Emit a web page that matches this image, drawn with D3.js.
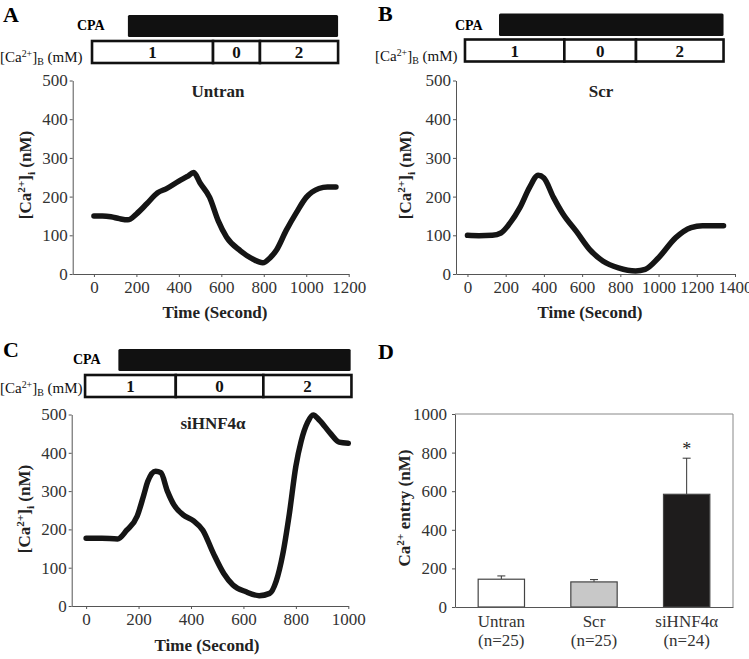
<!DOCTYPE html>
<html>
<head>
<meta charset="utf-8">
<script src="https://cdn.jsdelivr.net/npm/d3@7"></script>
<style>
  body { margin: 0; background: #fff; }
  svg, svg text { font-family: "Liberation Serif", "Times New Roman", serif; }
  svg { display: block; }
</style>
</head>
<body>
<svg id="chart" width="749" height="659"></svg>
<script>
// traces: time (s) and [Ca2+]i (nM)
const timeA = [0, 40, 80, 120, 160, 200, 250, 300, 340, 400, 440, 470, 500, 545, 585, 625, 690, 750, 795, 830, 860, 905, 955, 1000, 1060, 1100, 1140];
const caA   = [150, 150, 148, 143, 140, 155, 182, 210, 220, 240, 252, 262, 235, 198, 138, 95, 60, 38, 29, 42, 62, 112, 160, 198, 221, 225, 225];

const timeB = [0, 60, 130, 175, 220, 275, 325, 370, 400, 450, 500, 570, 640, 710, 790, 880, 930, 1000, 1090, 1170, 1230, 1340];
const caB   = [100, 99, 100, 106, 130, 172, 224, 255, 248, 198, 155, 110, 63, 33, 16, 8, 12, 42, 94, 120, 125, 125];

const timeC = [0, 60, 120, 155, 195, 220, 235, 265, 285, 310, 335, 370, 410, 445, 485, 525, 560, 610, 660, 700, 725, 750, 775, 800, 820, 845, 866, 890, 930, 965, 1000];
const caC   = [177, 177, 175, 198, 235, 290, 325, 352, 348, 300, 264, 238, 222, 198, 138, 85, 55, 37, 27, 33, 65, 135, 240, 365, 430, 480, 499, 485, 452, 428, 425];

// protocol bars (seconds)
const cpaA = [160, 1150], bathA = [-9, 561, 782, 1150];
const cpaB = [165, 1340], bathB = [-13, 507, 882, 1340];
const cpaC = [123, 1009], bathC = [-4, 342, 676, 1012];
const bathLevels = ["1", "0", "2"];

// panel D
const groups = ["Untran", "Scr", "siHNF4α"];
const groupN = ["(n=25)", "(n=25)", "(n=24)"];
const entryMean = [144, 130, 584];
const entryErr = [17, 12, 187];
const barFill = ["#ffffff", "#c8c8c8", "#1e1c1c"];

const svg = d3.select("#chart");
const axisCol = "#555", textCol = "#333";
const serif = "'Liberation Serif', 'Times New Roman', serif";

//writes text with super / subscripts
function rich(sel, parts, size) {
    let shift = 0;
    parts.forEach(([t, k]) => {
        const target = k === "sup" ? -0.36 * size : k === "sub" ? 0.22 * size : 0;
        sel.append("tspan")
            .attr("dy", target - shift)
            .attr("font-size", k === "n" ? size : size * 0.66)
            .text(t);
        shift = target;
    });
}

function styleAxis(a) {
    a.attr("font-family", null);
    a.selectAll("path, line").attr("stroke", axisCol);
    a.selectAll("text").attr("font-size", 17).attr("fill", textCol)
        .style("font-family", serif);
}

const panels = [
    {letter: "A", lx: 3, ly: 22, title: "Untran", tx: 218, ty: 97, t: timeA, v: caA,
     xDom: [-100, 1200], xr: [72.7, 348.7], xTicks: d3.range(0, 1201, 200), yr: [274, 80.5],
     cpa: cpaA, cpaY: [15, 37], cpaLab: [77, 30], bath: bathA, bathY: [41, 63], caLab: [0, 62],
     xtitle: [215, 318], ytitle: [31, 175]},
    {letter: "B", lx: 378, ly: 21, title: "Scr", tx: 601, ty: 97, t: timeB, v: caB,
     xDom: [-60, 1400], xr: [456, 735], xTicks: d3.range(0, 1401, 200), yr: [274, 80.5],
     cpa: cpaB, cpaY: [13.5, 36], cpaLab: [455, 30], bath: bathB, bathY: [39.5, 61.5], caLab: [375, 61],
     xtitle: [590, 318], ytitle: [411, 175]},
    {letter: "C", lx: 3, ly: 357, title: "siHNF4α", tx: 213, ty: 429, t: timeC, v: caC,
     xDom: [-55, 1000], xr: [71.7, 348.3], xTicks: d3.range(0, 1001, 200), yr: [606, 414.5],
     cpa: cpaC, cpaY: [349, 371], cpaLab: [73, 364], bath: bathC, bathY: [375, 397], caLab: [0, 393],
     xtitle: [207, 651], ytitle: [30, 509]}
];

panels.forEach(p => {
    const g = svg.append("g");
    const x = d3.scaleLinear().domain(p.xDom).range(p.xr);
    const y = d3.scaleLinear().domain([0, 500]).range(p.yr);

    g.append("text").attr("x", p.lx).attr("y", p.ly)
        .attr("font-size", 22).attr("font-weight", "bold").text(p.letter);

    //CPA bar
    g.append("text").attr("x", p.cpaLab[0]).attr("y", p.cpaLab[1])
        .attr("font-size", 14).attr("font-weight", "bold").text("CPA");
    g.append("rect")
        .attr("x", x(p.cpa[0])).attr("y", p.cpaY[0])
        .attr("width", x(p.cpa[1]) - x(p.cpa[0])).attr("height", p.cpaY[1] - p.cpaY[0])
        .attr("rx", 1.5).attr("fill", "#111");

    //bath Ca2+ boxes
    const caLabel = g.append("text").attr("x", p.caLab[0]).attr("y", p.caLab[1]).attr("fill", "#111");
    rich(caLabel, [["[Ca", "n"], ["2+", "sup"], ["]", "n"], ["B", "sub"], [" (mM)", "n"]], 15);

    const segs = d3.range(3).map(i => ({a: p.bath[i], b: p.bath[i + 1], lab: bathLevels[i]}));
    g.selectAll(".bath").data(segs).join("rect")
        .attr("x", d => x(d.a)).attr("y", p.bathY[0])
        .attr("width", d => x(d.b) - x(d.a)).attr("height", p.bathY[1] - p.bathY[0])
        .attr("fill", "#fff").attr("stroke", "#111").attr("stroke-width", 2.6);
    g.selectAll(".bathlab").data(segs).join("text")
        .attr("x", d => (x(d.a) + x(d.b)) / 2)
        .attr("y", (p.bathY[0] + p.bathY[1]) / 2 + 6)
        .attr("text-anchor", "middle").attr("font-size", 17).attr("font-weight", "bold")
        .attr("fill", "#111").text(d => d.lab);

    //axes
    const xa = g.append("g").attr("transform", `translate(0,${p.yr[0]})`)
        .call(d3.axisBottom(x).tickValues(p.xTicks).tickFormat(d3.format("d"))
            .tickSize(3).tickSizeOuter(0).tickPadding(4));
    const ya = g.append("g").attr("transform", `translate(${p.xr[0]},0)`)
        .call(d3.axisLeft(y).tickValues(d3.range(0, 501, 100)).tickFormat(d3.format("d"))
            .tickSize(3).tickSizeOuter(0).tickPadding(2));
    styleAxis(xa);
    styleAxis(ya);

    g.append("text").attr("x", p.tx).attr("y", p.ty).attr("text-anchor", "middle")
        .attr("font-size", 17).attr("font-weight", "bold").attr("fill", "#222").text(p.title);

    g.append("text").attr("x", p.xtitle[0]).attr("y", p.xtitle[1]).attr("text-anchor", "middle")
        .attr("font-size", 17).attr("font-weight", "bold").attr("fill", "#222").text("Time (Second)");

    const yl = g.append("text")
        .attr("transform", `translate(${p.ytitle[0]},${p.ytitle[1]}) rotate(-90)`)
        .attr("text-anchor", "middle").attr("font-size", 17).attr("font-weight", "bold").attr("fill", "#222");
    rich(yl, [["[Ca", "n"], ["2+", "sup"], ["]", "n"], ["i", "sub"], [" (nM)", "n"]], 17);

    //trace
    const pts = p.t.map((t, i) => [t, p.v[i]]);
    g.append("path").datum(pts)
        .attr("d", d3.line().x(d => x(d[0])).y(d => y(d[1])).curve(d3.curveMonotoneX))
        .attr("fill", "none").attr("stroke", "#151515").attr("stroke-width", 5.5)
        .attr("stroke-linecap", "round").attr("stroke-linejoin", "round");
});

// ---- panel D: bar chart
const gD = svg.append("g");
const xD = d3.scaleBand().domain(groups).range([455, 733]).paddingInner(0.5).paddingOuter(0.25);
const yD = d3.scaleLinear().domain([0, 1000]).range([607, 414]);

gD.append("text").attr("x", 378).attr("y", 359)
    .attr("font-size", 22).attr("font-weight", "bold").text("D");

//frame top and right
gD.append("path")
    .attr("d", `M${xD.range()[0]},${yD(1000)}H${xD.range()[1]}V${yD(0)}`)
    .attr("fill", "none").attr("stroke", "#888");

const barData = groups.map((k, i) => ({k, m: entryMean[i], e: entryErr[i], c: barFill[i]}));

gD.selectAll(".err").data(barData).join("path")
    .attr("d", d => {
        const cx = xD(d.k) + xD.bandwidth() / 2;
        return `M${cx},${yD(d.m)}V${yD(d.m + d.e)}M${cx - 4},${yD(d.m + d.e)}H${cx + 4}`;
    })
    .attr("stroke", "#333").attr("fill", "none");

gD.selectAll(".bar").data(barData).join("rect")
    .attr("x", d => xD(d.k)).attr("y", d => yD(d.m))
    .attr("width", xD.bandwidth()).attr("height", d => yD(0) - yD(d.m))
    .attr("fill", d => d.c).attr("stroke", "#444").attr("stroke-width", 1.2);

gD.append("text")
    .attr("x", xD("siHNF4α") + xD.bandwidth() / 2).attr("y", yD(entryMean[2] + entryErr[2]) - 3)
    .attr("text-anchor", "middle").attr("font-size", 18).attr("fill", "#222").text("*");

const yaD = gD.append("g").attr("transform", `translate(${xD.range()[0]},0)`)
    .call(d3.axisLeft(yD).tickValues(d3.range(0, 1001, 200)).tickFormat(d3.format("d"))
        .tickSize(3).tickSizeOuter(0).tickPadding(5));
const xaD = gD.append("g").attr("transform", `translate(0,${yD(0)})`)
    .call(d3.axisBottom(xD).tickSize(0).tickSizeOuter(0).tickFormat(""));
styleAxis(yaD);
styleAxis(xaD);

gD.selectAll(".glab").data(barData).join("text")
    .attr("x", d => xD(d.k) + xD.bandwidth() / 2).attr("y", 627)
    .attr("text-anchor", "middle").attr("font-size", 17).attr("fill", textCol).text(d => d.k);
gD.selectAll(".nlab").data(groupN).join("text")
    .attr("x", (d, i) => xD(groups[i]) + xD.bandwidth() / 2).attr("y", 646)
    .attr("text-anchor", "middle").attr("font-size", 17).attr("fill", textCol).text(d => d);

const ylD = gD.append("text")
    .attr("transform", "translate(410,508) rotate(-90)")
    .attr("text-anchor", "middle").attr("font-size", 17).attr("font-weight", "bold").attr("fill", "#222");
rich(ylD, [["Ca", "n"], ["2+", "sup"], ["  entry (nM)", "n"]], 17);
</script>
</body>
</html>
